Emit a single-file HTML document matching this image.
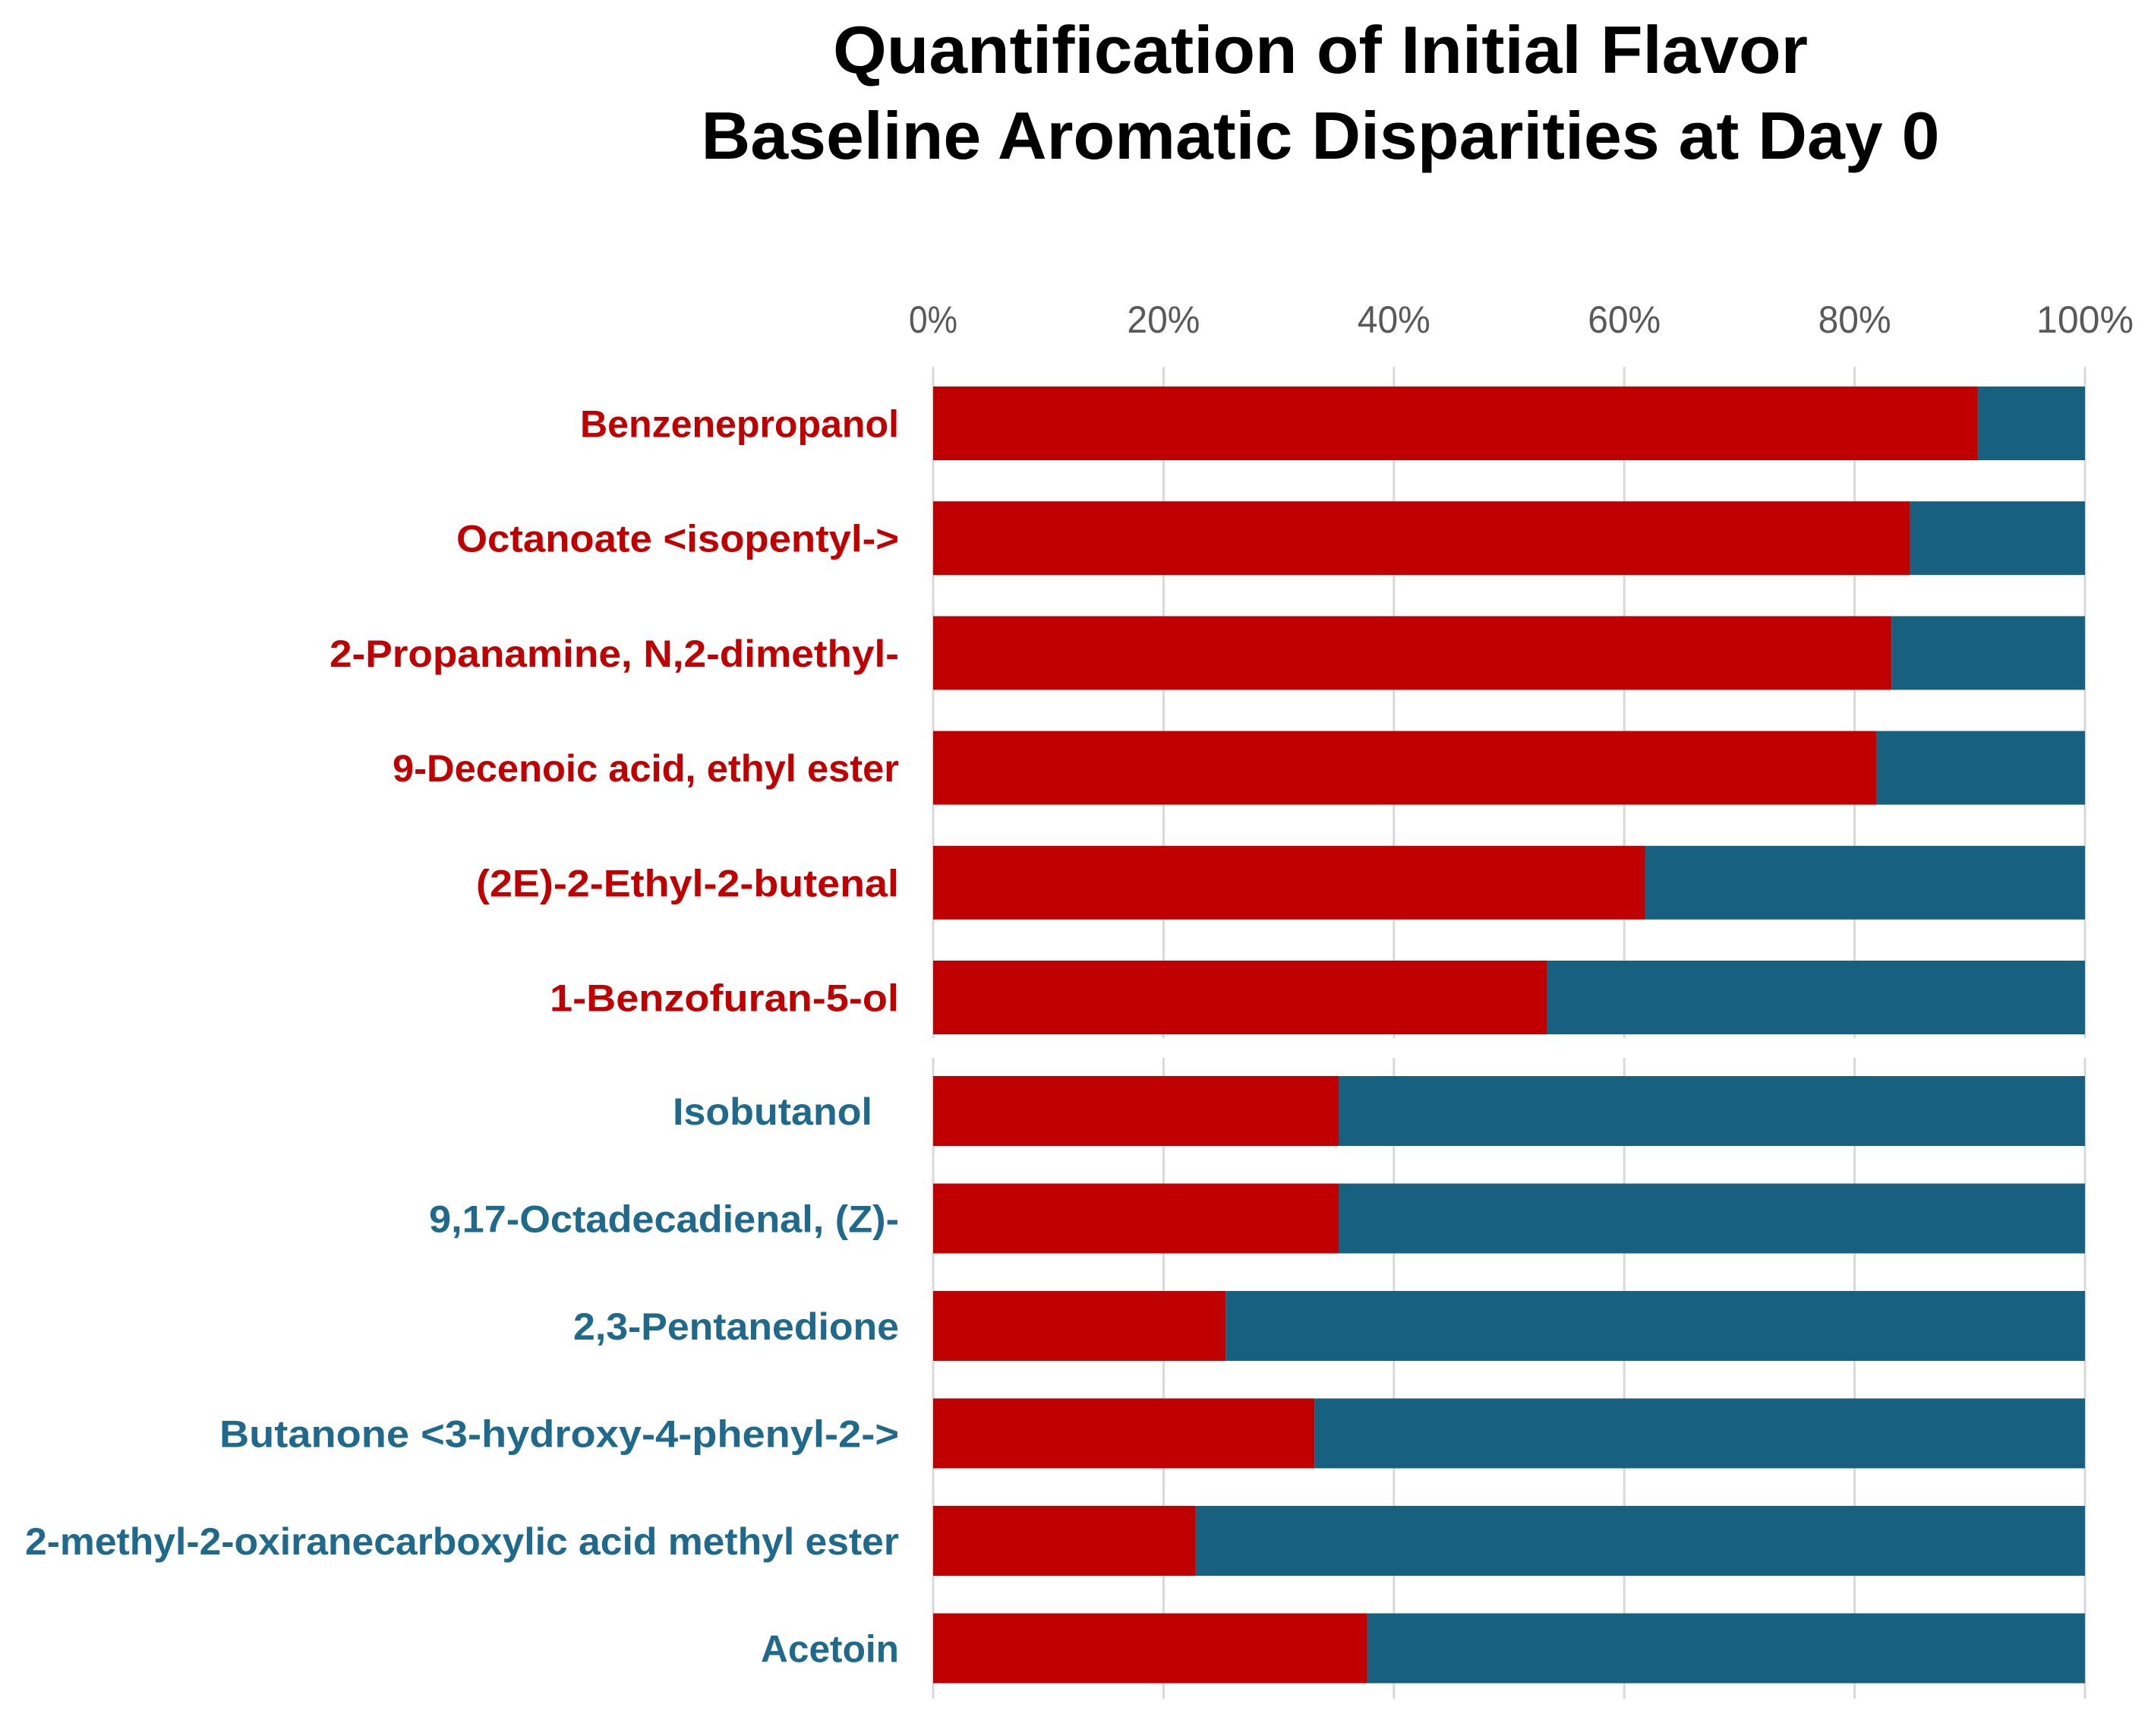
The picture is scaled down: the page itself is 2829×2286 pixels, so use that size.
<!DOCTYPE html>
<html><head><meta charset="utf-8">
<style>
html,body{margin:0;padding:0;background:#fff;}
svg{display:block;}
text{font-family:"Liberation Sans",sans-serif;}
</style></head>
<body>
<svg id="chart" width="2829" height="2286" viewBox="0 0 2829 2286" xmlns="http://www.w3.org/2000/svg">
<g>
<text x="1739" y="96" text-anchor="middle" font-size="88" font-weight="bold" fill="#000" textLength="1284" lengthAdjust="spacingAndGlyphs">Quantification of Initial Flavor</text>
<text x="1739" y="209" text-anchor="middle" font-size="88" font-weight="bold" fill="#000" textLength="1631" lengthAdjust="spacingAndGlyphs">Baseline Aromatic Disparities at Day 0</text>
</g>
<g id="grid"></g><g id="ticks"></g><g id="bars"></g><g id="labels"></g>
</svg>
<script>
const categories = ["Benzenepropanol","Octanoate <isopentyl->","2-Propanamine, N,2-dimethyl-","9-Decenoic acid, ethyl ester","(2E)-2-Ethyl-2-butenal","1-Benzofuran-5-ol","Isobutanol","9,17-Octadecadienal, (Z)-","2,3-Pentanedione","Butanone <3-hydroxy-4-phenyl-2->","2-methyl-2-oxiranecarboxylic acid methyl ester","Acetoin"];
const groupA = [1,1,1,1,1,1,0,0,0,0,0,0];
const redValues = [90.7,84.8,83.2,81.9,61.8,53.3,35.2,35.2,25.4,33.1,22.8,37.7];
const blueValues = [9.3,15.2,16.8,18.1,38.2,46.7,64.8,64.8,74.6,66.9,77.2,62.3];
const tickValues = [0,20,40,60,80,100];
const tickLabels = ["0%","20%","40%","60%","80%","100%"];
const labelWidths = [420,583,750,667,557,460,263,619,429,895,1151,182];

const NS="http://www.w3.org/2000/svg";
const X0=1229, X1=2746;
function xScale(v){return X0+(X1-X0)*v/100;}
function yBand(i){ // two panel groups
  if(i<6) return {y:509+i*151.2,h:97};
  return {y:1417+(i-6)*141.5,h:92};
}
function mk(tag,attrs,parent){const e=document.createElementNS(NS,tag);for(const k in attrs)e.setAttribute(k,attrs[k]);parent.appendChild(e);return e;}
const grid=document.getElementById('grid'),ticks=document.getElementById('ticks'),bars=document.getElementById('bars'),labels=document.getElementById('labels');
tickValues.forEach((t,i)=>{
  const x=xScale(t);
  let l1=mk('line',{x1:x,x2:x,y1:483,y2:1367,stroke:'#d9d9d9','stroke-width':3},grid);
  
  
  let l2=mk('line',{x1:x,x2:x,y1:1393,y2:2237,stroke:'#d9d9d9','stroke-width':3},grid);
  
  
  let tx=mk('text',{x:x,y:438,'text-anchor':'middle','font-size':50,fill:'#595959',textLength:tickLabels[i].length*32,lengthAdjust:'spacingAndGlyphs'},ticks);
  tx.textContent=tickLabels[i];
  
  
});
categories.forEach((c,i)=>{
  const b=yBand(i);
  const r=mk('rect',{x:xScale(0),y:b.y,width:xScale(redValues[i])-xScale(0),height:b.h,fill:'#C00000'},bars);
  
  
  const bl=mk('rect',{x:xScale(redValues[i]),y:b.y,width:xScale(redValues[i]+blueValues[i])-xScale(redValues[i]),height:b.h,fill:'#17607F'},bars);
  
  
  const right = c==="Isobutanol"?1149:1184;
  const t=mk('text',{x:right,y:b.y+b.h/2+18,'text-anchor':'end','font-size':50,'font-weight':'bold',fill:groupA[i]?'#C00000':'#1F6A8C',textLength:labelWidths[i],lengthAdjust:'spacingAndGlyphs'},labels);
  t.textContent=c;
  
  
});
</script>
</body></html>
